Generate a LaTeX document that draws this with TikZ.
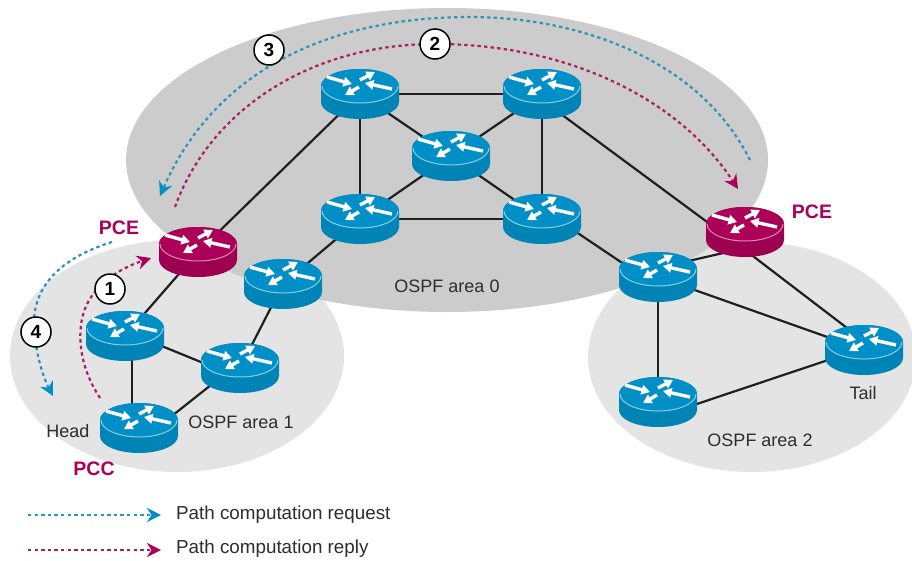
\documentclass[tikz,border=0pt]{standalone}
\usepackage{fontspec}
\setmainfont{Liberation Sans}
\usetikzlibrary{arrows.meta}
\definecolor{rblue}{RGB}{0,143,198}
\definecolor{rred}{RGB}{172,0,88}
\definecolor{areaA}{RGB}{204,204,204}
\definecolor{areaB}{RGB}{228,228,228}
\definecolor{reqc}{RGB}{45,150,180}
\definecolor{repc}{RGB}{170,30,100}
\definecolor{txt}{RGB}{45,45,45}
\tikzset{
  x=1pt,y=-1pt,
  link/.style={line width=2.2pt,draw=black!88},
  rnode/.style={inner sep=0pt,minimum width=78pt,minimum height=50pt},
  req/.style={draw=reqc,line width=2.2pt,dash pattern=on 3.4pt off 3.2pt,-{Stealth[length=14pt,width=14pt,color=rblue]}},
  rep/.style={draw=repc,line width=2.2pt,dash pattern=on 3.4pt off 3.2pt,-{Stealth[length=14pt,width=14pt,color=rred]}},
  step num/.style={circle,draw=black,line width=1.5pt,fill=white,minimum size=30pt,inner sep=0pt,font=\fontsize{19}{19}\selectfont\bfseries},
  label text/.style={text=txt,font=\fontsize{18}{18}\selectfont,inner sep=0pt},
  legend text/.style={text=txt,font=\fontsize{18.8}{19}\selectfont,inner sep=0pt},
  pce text/.style={text=rred,font=\fontsize{19.5}{20}\selectfont\bfseries,inner sep=0pt},
  rarrow/.style={draw=white,line width=3.4pt,-{Triangle[length=8.5pt,width=9.5pt]}},
  pics/router/.style 2 args={code={
    \fill[#1!92!black] (-39,-8) -- (-39,8) arc[start angle=180,end angle=0,x radius=39,y radius=17] -- (39,-8) arc[start angle=0,end angle=-180,x radius=39,y radius=17] -- cycle;
    \fill[#1] (0,-8) ellipse[x radius=39,y radius=17];
    \draw[#2,line width=1pt] (-38,-8) arc[start angle=180,end angle=0,x radius=38,y radius=17];
    \draw[rarrow] (-33,-17) -- (-8,-10);
    \draw[rarrow] (32,-5) -- (5,-11);
    \draw[rarrow] (0,-14) -- (15,-22);
    \draw[rarrow] (-1,-7) -- (-15,1);
  }}
}
\def\routerlist{
  tl/360/94/rblue/rblue!45!white, tr/542/94/rblue/rblue!45!white, cc/451/156/rblue/rblue!45!white,
  ml/360/219/rblue/rblue!45!white, mr/542/219/rblue/rblue!45!white, pa/198/252/rred/rred!45!white,
  bb/283/284/rblue/rblue!45!white, la/125/336/rblue/rblue!45!white, lb/240/368/rblue/rblue!45!white,
  hd/139/428/rblue/rblue!45!white, pb/745/232/rred/rred!45!white, ra/658/277/rblue/rblue!45!white,
  tt/864/350/rblue/rblue!45!white, rb/658/402/rblue/rblue!45!white}
\begin{document}
\begin{tikzpicture}
\useasboundingbox (0,0) rectangle (912,560);
\fill[white] (0,0) rectangle (912,560);
% areas
\fill[areaB] (177,356) ellipse[x radius=167,y radius=116];
\fill[areaB] (752,357) ellipse[x radius=164,y radius=115];
\fill[areaA] (447,160) ellipse[x radius=321,y radius=152];
% nodes for the routers
\foreach \n/\x/\y/\c/\d in \routerlist {\node[rnode] (\n) at (\x,\y) {};}
% links
\foreach \a/\b in {tl/tr,tl/ml,tr/mr,ml/mr,tl/cc,tr/cc,ml/cc,mr/cc,tl/pa,ml/bb,pa/la,bb/lb,ra/rb,ra/tt}
  {\draw[link] (\a.center) -- (\b.center);}
\foreach \a/\ay/\b/\by in {tr/6/pb/18, mr/-10/ra/10, ra/-9/pb/16, pb/18/tt/-9, rb/15/tt/-2, la/-5/lb/10, hd/14/lb/-6}
  {\draw[link] ([yshift=-\ay pt]\a.center) -- ([yshift=-\by pt]\b.center);}
\draw[link] ([xshift=7pt]la.center) -- ([xshift=-7pt]hd.center);
% routers
\foreach \n/\x/\y/\c/\d in \routerlist {\pic at (\n.center) {router={\c}{\d}};}
% paths
\coordinate (s3) at (750,160); \coordinate (m3) at (470,17); \coordinate (e3) at (160,196);
\coordinate (s2) at (175,207); \coordinate (m2) at (435,44); \coordinate (e2) at (738,189);
\coordinate (s4) at (112,242); \coordinate (e4) at (53,396);
\coordinate (s1) at (100,398); \coordinate (e1) at (151,258);
\draw[req] (s3) .. controls (700,60) and (580,17) .. (m3) .. controls (330,17) and (215,70) .. (e3);
\draw[rep] (s2) .. controls (210,110) and (310,44) .. (m2) .. controls (570,44) and (680,100) .. (e2);
\draw[req] (s4) .. controls (70,255) and (33,280) .. (34,325) .. controls (35,350) and (42,375) .. (e4);
\draw[rep] (s1) .. controls (85,375) and (78,350) .. (81,325) .. controls (85,290) and (115,270) .. (e1);
% numbers
\node[step num] (n1) at (110,289) {1};
\node[step num] (n2) at (435,44) {2};
\node[step num] (n3) at (269,50) {3};
\node[step num] (n4) at (36,332) {4};
% texts
\node[pce text] (tp1) at (119,228) {PCE};
\node[pce text] (tp2) at (812,212) {PCE};
\node[pce text] (tp3) at (94,469) {PCC};
\node[label text] (th) at (68,431) {Head};
\node[label text] (t1) at (241,422) {OSPF area 1};
\node[label text] (t0) at (447,286) {OSPF area 0};
\node[label text] (t2) at (760,440) {OSPF area 2};
\node[label text] (tl) at (863,393) {Tail};
% legend
\node[legend text,anchor=west] (lq) at (176,515) {Path computation request};
\node[legend text,anchor=west] (lp) at (176,549) {Path computation reply};
\coordinate (lqa) at (28,515); \coordinate (lqb) at (161,515);
\coordinate (lpa) at (28,550); \coordinate (lpb) at (161,550);
\draw[req] (lqa) -- (lqb);
\draw[rep] (lpa) -- (lpb);
\end{tikzpicture}
\end{document}
